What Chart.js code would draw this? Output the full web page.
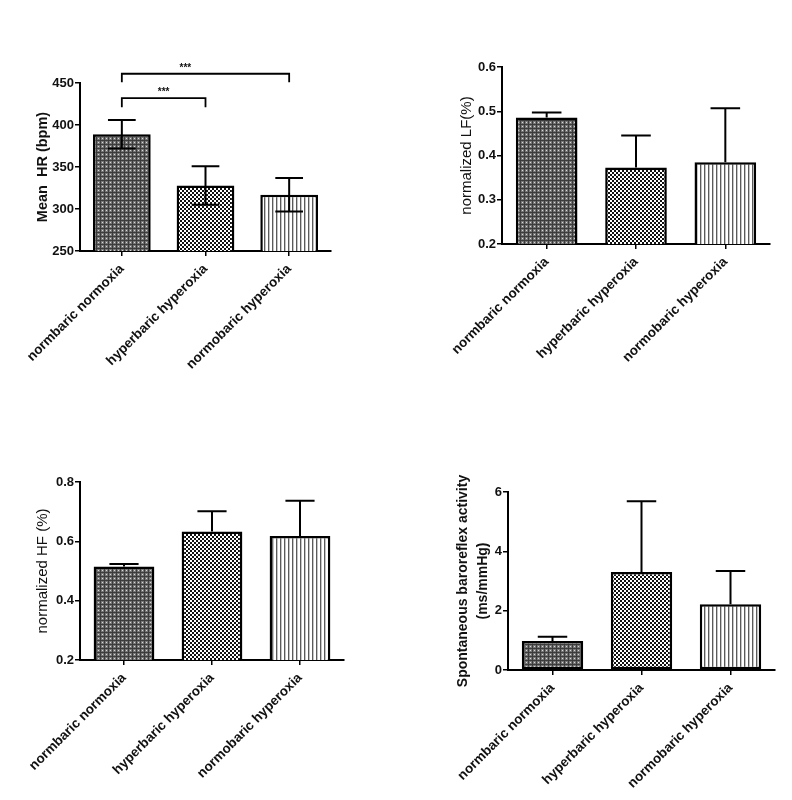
<!DOCTYPE html>
<html lang="en">
<head>
    <meta charset="UTF-8" />
    <title>Hyperoxia heart rate variability panels</title>
    <style>
        body {
            margin: 0;
            background: #fff;
        }

        .panel {
            position: absolute;
            width: 396px;
            height: 400px;
        }

        #p1 { left: 0; top: 0; }
        #p2 { left: 396px; top: 0; }
        #p3 { left: 0; top: 400px; }
        #p4 { left: 396px; top: 400px; }
    </style>
    <script src="https://cdn.jsdelivr.net/npm/chart.js"></script>
</head>
<body>
    <div class="panel" id="p1"><canvas id="hrChart" width="396" height="400"></canvas></div>
    <div class="panel" id="p2"><canvas id="lfChart" width="396" height="400"></canvas></div>
    <div class="panel" id="p3"><canvas id="hfChart" width="396" height="400"></canvas></div>
    <div class="panel" id="p4"><canvas id="brsChart" width="396" height="400"></canvas></div>

    <script>
        const groups = ["normbaric normoxia", "hyperbaric hyperoxia", "normobaric hyperoxia"];

        // mean HR (bpm), mean and error
        const hrMean = [389, 328, 317];
        const hrErr = [17, 23, 20];
        const hrTicks = [250, 300, 350, 400, 450];

        // normalized LF
        const lfMean = [0.486, 0.373, 0.385];
        const lfErr = [0.011, 0.072, 0.122];
        const lfTicks = [0.2, 0.3, 0.4, 0.5, 0.6];

        // normalized HF
        const hfMean = [0.515, 0.633, 0.618];
        const hfErr = [0.009, 0.068, 0.119];
        const hfTicks = [0.2, 0.4, 0.6, 0.8];

        // spontaneous baroreflex activity (ms/mmHg)
        const brsMean = [0.98, 3.30, 2.22];
        const brsErr = [0.14, 2.39, 1.12];
        const brsTicks = [0, 2, 4, 6];

        // significance brackets on the HR panel
        const hrSig = [
            { from: 0, to: 2, label: "***" },
            { from: 0, to: 1, label: "***" },
        ];

        const FONT = "'Liberation Sans', Arial, sans-serif";

        function makePattern(kind) {
            const c = document.createElement("canvas");
            c.width = 4;
            c.height = 4;
            const g = c.getContext("2d");
            if (kind === "grid") {
                g.fillStyle = "#767676"; g.fillRect(0, 0, 4, 4);
                g.fillStyle = "#3c3c3c"; g.fillRect(0, 0, 4, 1); g.fillRect(0, 0, 1, 4);
                g.fillStyle = "#d8d8d8"; g.fillRect(2, 2, 1, 1);
            } else if (kind === "check") {
                g.fillStyle = "#fff"; g.fillRect(0, 0, 4, 4);
                g.fillStyle = "#111"; g.fillRect(0, 0, 2, 2); g.fillRect(2, 2, 2, 2);
            } else {
                g.fillStyle = "#fff"; g.fillRect(0, 0, 4, 4);
                g.fillStyle = "#5a5a5a"; g.fillRect(0, 0, 1, 4);
                g.fillStyle = "#c4c4c4"; g.fillRect(1, 0, 1, 4);
            }
            return g.createPattern(c, "repeat");
        }

        const fills = [makePattern("grid"), makePattern("check"), makePattern("lines")];

        const errorBars = {
            id: "errorBars",
            afterDatasetsDraw(chart, args, opts) {
                if (!opts.errors) return;
                const meta = chart.getDatasetMeta(0);
                const y = chart.scales.y;
                const values = chart.data.datasets[0].data;
                const ctx = chart.ctx;
                ctx.save();
                ctx.strokeStyle = "#000";
                ctx.lineWidth = 2;
                meta.data.forEach((bar, i) => {
                    const top = y.getPixelForValue(values[i] + opts.errors[i]);
                    const bottom = opts.both ? y.getPixelForValue(values[i] - opts.errors[i]) : bar.y;
                    const half = bar.width * 0.24;
                    ctx.beginPath();
                    ctx.moveTo(bar.x, bottom);
                    ctx.lineTo(bar.x, top);
                    ctx.moveTo(bar.x - half, top);
                    ctx.lineTo(bar.x + half, top);
                    if (opts.both) {
                        ctx.moveTo(bar.x - half, bottom);
                        ctx.lineTo(bar.x + half, bottom);
                    }
                    ctx.stroke();
                });
                ctx.restore();
            },
        };

        const brackets = {
            id: "brackets",
            afterDraw(chart, args, opts) {
                if (!opts.items) return;
                const x = chart.scales.x;
                const y = chart.scales.y;
                const ctx = chart.ctx;
                ctx.save();
                ctx.strokeStyle = "#000";
                ctx.lineWidth = 1.8;
                ctx.fillStyle = "#111";
                ctx.font = "bold 10px " + FONT;
                ctx.textAlign = "center";
                ctx.textBaseline = "bottom";
                opts.items.forEach((b, k) => {
                    const lineY = y.getPixelForValue(opts.levels[k]);
                    const dropY = y.getPixelForValue(opts.drops[k]);
                    const x0 = x.getPixelForValue(b.from);
                    const x1 = x.getPixelForValue(b.to);
                    ctx.beginPath();
                    ctx.moveTo(x0, dropY);
                    ctx.lineTo(x0, lineY);
                    ctx.lineTo(x1, lineY);
                    ctx.lineTo(x1, dropY);
                    ctx.stroke();
                    const sx = x.getPixelForValue(0) + (x1 - x0) * opts.starAt[k];
                    ctx.fillText(b.label, sx, lineY - 1);
                });
                ctx.restore();
            },
        };

        function makeChart(id, cfg) {
            const tickFont = { family: FONT, size: 13, weight: "bold" };
            return new Chart(document.getElementById(id), {
                type: "bar",
                data: {
                    labels: groups,
                    datasets: [
                        {
                            data: cfg.means,
                            backgroundColor: fills,
                            borderColor: "#000",
                            borderWidth: 2.5,
                            borderSkipped: false,
                            categoryPercentage: 0.69,
                            barPercentage: 1,
                        },
                    ],
                },
                options: {
                    responsive: false,
                    animation: false,
                    layout: { padding: { left: cfg.padLeft, top: cfg.padTop, right: cfg.padRight, bottom: 0 } },
                    plugins: {
                        legend: { display: false },
                        tooltip: { enabled: false },
                        errorBars: { errors: cfg.errors, both: cfg.both },
                        brackets: cfg.brackets || {},
                    },
                    scales: {
                        x: {
                            grid: { display: true, drawOnChartArea: false, offset: false, color: "#000", lineWidth: 1.5, tickLength: 5 },
                            border: { color: "#000", width: 2 },
                            ticks: { color: "#111", font: { family: FONT, size: 13.5, weight: "bold" }, minRotation: 45, maxRotation: 45, autoSkip: false, padding: 5 },
                            afterFit: (s) => { s.height = cfg.xHeight; },
                        },
                        y: {
                            min: cfg.ticks[0],
                            max: cfg.ticks[cfg.ticks.length - 1],
                            afterBuildTicks: (s) => { s.ticks = cfg.ticks.map((v) => ({ value: v })); },
                            grid: { display: true, drawOnChartArea: false, color: "#000", lineWidth: 1.5, tickLength: 5 },
                            border: { color: "#000", width: 2 },
                            ticks: { color: "#111", font: tickFont, padding: 1, callback: (v) => String(v) },
                            title: {
                                display: true,
                                text: cfg.title,
                                color: "#111",
                                font: cfg.titleFont,
                                padding: { top: 4, bottom: 4 },
                            },
                            afterFit: (s) => { s.width = cfg.yWidth; },
                        },
                    },
                },
                plugins: [errorBars, brackets],
            });
        }

        makeChart("hrChart", {
            means: hrMean, errors: hrErr, both: true, ticks: hrTicks,
            title: "Mean  HR (bpm)",
            titleFont: { family: FONT, size: 14.5, weight: "bold" },
            padLeft: 30, padTop: 83, padRight: 65, yWidth: 50, xHeight: 149,
            brackets: { items: hrSig, levels: [461, 432], drops: [451, 421], starAt: [0.38, 0.5] },
        });

        makeChart("lfChart", {
            means: lfMean, errors: lfErr, both: false, ticks: lfTicks,
            title: "normalized LF(%)",
            titleFont: { family: FONT, size: 15 },
            padLeft: 58, padTop: 67, padRight: 22, yWidth: 48, xHeight: 156,
        });

        makeChart("hfChart", {
            means: hfMean, errors: hfErr, both: false, ticks: hfTicks,
            title: "normalized HF (%)",
            titleFont: { family: FONT, size: 15 },
            padLeft: 30, padTop: 82, padRight: 52, yWidth: 50, xHeight: 140,
        });

        makeChart("brsChart", {
            means: brsMean, errors: brsErr, both: false, ticks: brsTicks,
            title: ["Spontaneous baroreflex activity", "(ms/mmHg)"],
            titleFont: { family: FONT, size: 14, weight: "bold", lineHeight: "20px" },
            padLeft: 53, padTop: 92, padRight: 17, yWidth: 59, xHeight: 130,
        });
    </script>
</body>
</html>
